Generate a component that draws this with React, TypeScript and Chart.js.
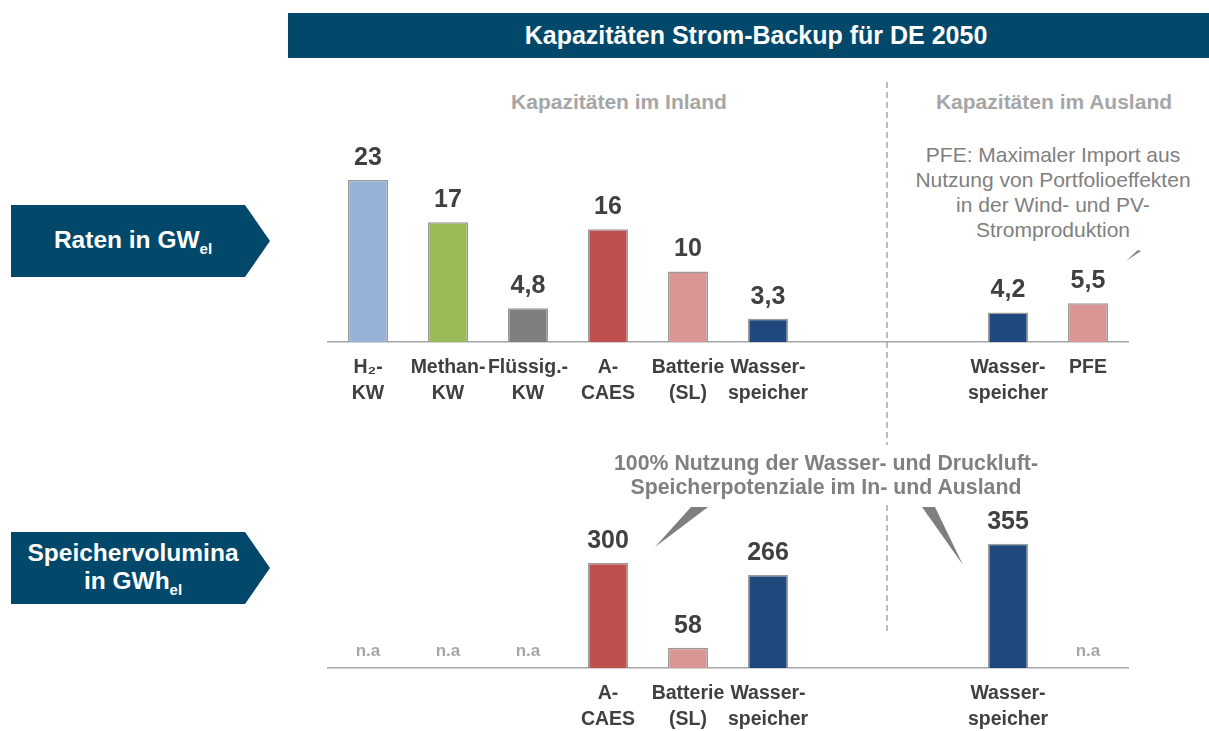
import React, { useEffect, useRef } from "react";
import { Chart, registerables } from "chart.js";

Chart.register(...registerables);

// ---------- DATA ----------
const ratesLabels: string[][] = [
  ["H₂-", "KW"],
  ["Methan-", "KW"],
  ["Flüssig.-", "KW"],
  ["A-", "CAES"],
  ["Batterie", "(SL)"],
  ["Wasser-", "speicher"],
  [""],
  [""],
  ["Wasser-", "speicher"],
  ["PFE"],
];
const volumeLabels: string[][] = [
  [""],
  [""],
  [""],
  ["A-", "CAES"],
  ["Batterie", "(SL)"],
  ["Wasser-", "speicher"],
  [""],
  [""],
  ["Wasser-", "speicher"],
  [""],
];
const ratesGW: (number | null)[] = [23, 17, 4.8, 16, 10, 3.3, null, null, 4.2, 5.5];
const volumesGWh: (number | null)[] = [null, null, null, 300, 58, 266, null, null, 355, null];
const volumesNotAvailable: boolean[] = [true, true, true, false, false, false, false, false, false, true];
const barColors: string[] = [
  "#95b3d7",
  "#9bbb59",
  "#7f7f7f",
  "#c0504d",
  "#d99694",
  "#1f497d",
  "#ffffff",
  "#ffffff",
  "#1f497d",
  "#d99694",
];

const titleText = "Kapazitäten Strom-Backup für DE 2050";
const inlandHeader = "Kapazitäten im Inland";
const abroadHeader = "Kapazitäten im Ausland";
const pfeNote = ["PFE: Maximaler Import aus", "Nutzung von Portfolioeffekten", "in der Wind- und PV-", "Stromproduktion"];
const storageNote = ["100% Nutzung der Wasser- und Druckluft-", "Speicherpotenziale im In- und Ausland"];

// ---------- STYLE ----------
const FONT = '"Liberation Sans", Arial, sans-serif';
const DARK = "#404040";
const NAVY = "#02486a";

const valueLabelPlugin = {
  id: "valueLabels",
  afterDatasetsDraw(chart: any, _args: any, opts: any) {
    const ctx = chart.ctx;
    const xs = chart.scales.x;
    const ys = chart.scales.y;
    const data = chart.data.datasets[0].data as (number | null)[];
    const base = ys.getPixelForValue(0);
    ctx.save();
    ctx.textAlign = "center";
    ctx.textBaseline = "middle";
    data.forEach((v, i) => {
      const x = xs.getPixelForValue(i);
      if (v == null) {
        if (opts && opts.na && opts.na[i]) {
          ctx.font = `bold 17px ${FONT}`;
          ctx.fillStyle = "#a6a6a6";
          ctx.fillText("n.a", x, base - 17);
        }
        return;
      }
      ctx.font = `bold 25px ${FONT}`;
      ctx.fillStyle = DARK;
      ctx.fillText(String(v).replace(".", ","), x, ys.getPixelForValue(v) - 22);
    });
    ctx.restore();
  },
};

function makeChart(
  canvas: HTMLCanvasElement,
  labels: string[][],
  data: (number | null)[],
  max: number,
  axisH: number,
  na: boolean[] | null
) {
  return new Chart(canvas, {
    type: "bar",
    data: {
      labels,
      datasets: [
        {
          data,
          backgroundColor: barColors,
          borderColor: "#9a9a9a",
          borderWidth: 1.5,
          barPercentage: 0.5,
          categoryPercentage: 1,
        },
      ],
    },
    options: {
      responsive: false,
      animation: false,
      events: [],
      layout: { padding: { left: 328, right: 81, top: 20, bottom: 0 } },
      plugins: {
        legend: { display: false },
        tooltip: { enabled: false },
        valueLabels: { na },
      } as any,
      scales: {
        x: {
          grid: { display: false, drawTicks: false },
          border: { display: true, color: "#a6a6a6", width: 1.5 },
          ticks: {
            autoSkip: false,
            maxRotation: 0,
            padding: 13,
            color: DARK,
            font: { family: FONT, size: 19.5, weight: "bold", lineHeight: 1.33 },
          },
          afterFit: (scale: any) => {
            scale.height = axisH;
          },
        },
        y: { display: false, min: 0, max },
      },
    },
    plugins: [valueLabelPlugin as any],
  });
}

function ArrowLabel({ top, lines }: { top: number; lines: React.ReactNode[] }) {
  return (
    <div style={{ position: "absolute", left: 11, top, width: 259, height: 72 }}>
      <svg width={259} height={72} style={{ position: "absolute", left: 0, top: 0 }}>
        <polygon points="0,0 234,0 259,36 234,72 0,72" fill={NAVY} />
      </svg>
      <div
        style={{
          position: "absolute",
          left: 0,
          top: 0,
          width: 244,
          height: 72,
          display: "flex",
          flexDirection: "column",
          justifyContent: "center",
          alignItems: "center",
          color: "#fff",
          fontFamily: FONT,
          fontWeight: "bold",
          fontSize: 24.5,
          lineHeight: "28px",
          whiteSpace: "nowrap",
        }}
      >
        {lines.map((l, i) => (
          <div key={i}>{l}</div>
        ))}
      </div>
    </div>
  );
}

const sub = (t: string) => (
  <span style={{ fontSize: 15, position: "relative", top: 6 }}>{t}</span>
);

export default function App() {
  const topRef = useRef<HTMLCanvasElement>(null);
  const botRef = useRef<HTMLCanvasElement>(null);

  useEffect(() => {
    const c1 = makeChart(topRef.current!, ratesLabels, ratesGW, 27.27, 68, null);
    const c2 = makeChart(botRef.current!, volumeLabels, volumesGWh, 480, 63, volumesNotAvailable);
    return () => {
      c1.destroy();
      c2.destroy();
    };
  }, []);

  const textStyle = (x: number, y: number, extra: React.CSSProperties = {}): React.CSSProperties => ({
    position: "absolute",
    left: x,
    top: y,
    transform: "translate(-50%, -50%)",
    whiteSpace: "nowrap",
    fontFamily: FONT,
    textAlign: "center",
    ...extra,
  });

  return (
    <div
      style={{
        position: "fixed",
        left: 0,
        top: 0,
        width: 1209,
        height: 731,
        background: "#fff",
        overflow: "hidden",
      }}
    >
      {/* decorations: dashed divider and callout wedges */}
      <svg width={1209} height={731} style={{ position: "absolute", left: 0, top: 0 }}>
        <line x1={887} y1={82} x2={887} y2={445} stroke="#9a9a9a" strokeWidth={1.3} strokeDasharray="6,4" />
        <line x1={887} y1={505} x2={887} y2={632} stroke="#9a9a9a" strokeWidth={1.3} strokeDasharray="6,4" />
        <polygon points="691,507 708,507 655,547" fill="#7f7f7f" />
        <polygon points="922,507 935,507 963,565" fill="#7f7f7f" />
        <polygon points="1126,261 1138,250 1141,251" fill="#7f7f7f" />
      </svg>

      {/* title banner */}
      <div
        style={{
          position: "absolute",
          left: 288,
          top: 13,
          width: 921,
          height: 45,
          background: NAVY,
          color: "#fff",
          fontFamily: FONT,
          fontWeight: "bold",
          fontSize: 25,
          lineHeight: "45px",
          textAlign: "center",
          paddingLeft: 15,
          boxSizing: "border-box",
        }}
      >
        {titleText}
      </div>

      <ArrowLabel top={205} lines={[<>Raten in GW{sub("el")}</>]} />
      <ArrowLabel top={532} lines={["Speichervolumina", <>in GWh{sub("el")}</>]} />

      <div style={textStyle(619, 102, { fontWeight: "bold", fontSize: 21, color: "#a6a6a6" })}>{inlandHeader}</div>
      <div style={textStyle(1054, 102, { fontWeight: "bold", fontSize: 21, color: "#a6a6a6" })}>{abroadHeader}</div>

      <div style={textStyle(1053, 192, { fontSize: 21, lineHeight: "25px", color: "#808080" })}>
        {pfeNote.map((l, i) => (
          <div key={i}>{l}</div>
        ))}
      </div>

      <div
        style={textStyle(826, 475, {
          fontSize: 21.3,
          fontWeight: "bold",
          lineHeight: "24px",
          color: "#808080",
          background: "#fff",
          zIndex: 2,
        })}
      >
        {storageNote.map((l, i) => (
          <div key={i}>{l}</div>
        ))}
      </div>

      <canvas
        ref={topRef}
        width={1209}
        height={280}
        style={{ position: "absolute", left: 0, top: 130, width: 1209, height: 280 }}
      />
      <canvas
        ref={botRef}
        width={1209}
        height={251}
        style={{ position: "absolute", left: 0, top: 480, width: 1209, height: 251 }}
      />
    </div>
  );
}
